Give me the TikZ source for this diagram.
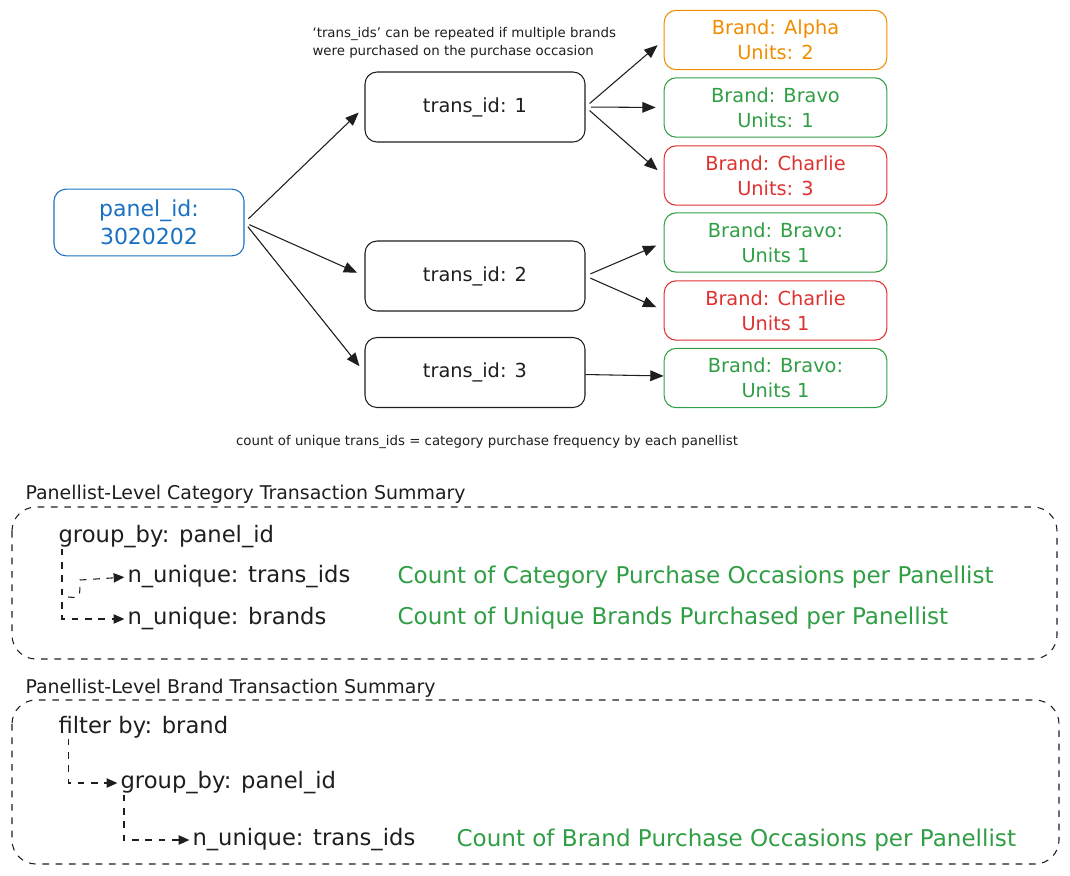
\documentclass[tikz,border=0pt]{standalone}
\usepackage{fontspec}
\setmainfont{DejaVu Sans}
\usetikzlibrary{arrows.meta}
\definecolor{inkblack}{HTML}{1E1E1E}
\definecolor{inkblue}{HTML}{1971C2}
\definecolor{inkorange}{HTML}{F08C00}
\definecolor{inkgreen}{HTML}{2F9E44}
\definecolor{inkred}{HTML}{E03131}
\begin{document}
\begin{tikzpicture}[x=0.75pt, y=-0.75pt, line width=0.8pt, color=inkblack,
  idbox/.style={draw, rounded corners=9pt, align=center, inner sep=0pt,
    font=\fontsize{14.5}{19}\selectfont},
  transbox/.style={idbox, minimum width=165pt, minimum height=52.5pt},
  brandbox/.style={idbox, minimum width=167pt, minimum height=44.5pt},
  flow/.style={-{Triangle[length=10pt,width=8pt]}, shorten <=4pt, shorten >=6pt},
  dashflow/.style={dash pattern=on 5pt off 5pt,
    -{Triangle[length=8pt,width=7pt]}, shorten >=2pt},
  notetext/.style={font=\fontsize{10}{13}\selectfont, align=left, inner sep=0pt},
  sumtitle/.style={font=\fontsize{14.2}{16}\selectfont, anchor=west, inner sep=0pt},
  sumtext/.style={font=\fontsize{17}{20}\selectfont, anchor=west, inner sep=0pt},
  resulttext/.style={sumtext, font=\fontsize{17.3}{20}\selectfont, text=inkgreen},
  sumframe/.style={dash pattern=on 5pt off 5pt, rounded corners=18pt}]
  \useasboundingbox (0,0) rectangle (1070,875);
  % Panellist and transactions
  \node[idbox, draw=inkblue, text=inkblue, minimum width=142.5pt, minimum height=50pt,
    font=\fontsize{16.5}{21}\selectfont]
    (panel) at (149,222.5) {panel\_id:\\3020202};
  \node[transbox] (t1) at (475,107) {trans\_id: 1};
  \node[transbox] (t2) at (475,276) {trans\_id: 2};
  \node[transbox] (t3) at (475,372.5) {trans\_id: 3};
  % Brands bought on each occasion
  \node[brandbox, draw=inkorange, text=inkorange] (alpha1) at (775.5,40) {Brand: Alpha\\Units: 2};
  \node[brandbox, draw=inkgreen, text=inkgreen] (bravo1) at (775.5,107.5) {Brand: Bravo\\Units: 1};
  \node[brandbox, draw=inkred, text=inkred] (charlie1) at (775.5,175.5) {Brand: Charlie\\Units: 3};
  \node[brandbox, draw=inkgreen, text=inkgreen] (bravo2) at (775.5,242.5) {Brand: Bravo:\\Units 1};
  \node[brandbox, draw=inkred, text=inkred] (charlie2) at (775.5,310.5) {Brand: Charlie\\Units 1};
  \node[brandbox, draw=inkgreen, text=inkgreen] (bravo3) at (775.5,378) {Brand: Bravo:\\Units 1};
  % Connectors
  \foreach \t in {t1,t2,t3}
    \draw[flow] (panel.east) -- (\t.west);
  \foreach \b in {alpha1,bravo1,charlie1}
    \draw[flow] (t1.east) -- (\b.west);
  \foreach \b in {bravo2,charlie2}
    \draw[flow] (t2.east) -- (\b.west);
  \draw[flow, shorten <=0pt, shorten >=0pt] (t3) -- (bravo3);
  % Notes
  \node[notetext, anchor=north west] (repeatnote) at (312,27)
    {`trans\_ids' can be repeated if multiple brands\\were purchased on the purchase occasion};
  \node[notetext] (freqnote) at (487,442)
    {count of unique trans\_ids = category purchase frequency by each panellist};
  % Category summary
  \node[sumtitle] (cattitle) at (25,494) {Panellist-Level Category Transaction Summary};
  \draw[sumframe] (12,507) rectangle (1057,659);
  \node[sumtext] (catgroup) at (58,537) {group\_by: panel\_id};
  \node[sumtext] (cattrans) at (127,577) {n\_unique: trans\_ids};
  \node[sumtext] (catbrands) at (127,619) {n\_unique: brands};
  \node[resulttext] (catfreq) at (397,577) {Count of Category Purchase Occasions per Panellist};
  \node[resulttext] (catunique) at (397,618) {Count of Unique Brands Purchased per Panellist};
  \coordinate (hook) at (68,597);
  \draw[dashflow] ([xshift=3pt]catgroup.south west) |- (catbrands.west);
  \draw[dashflow] (hook) .. controls (80,598) .. (80,580) -- (cattrans.west);
  % Brand summary
  \node[sumtitle] (brtitle) at (25,688) {Panellist-Level Brand Transaction Summary};
  \draw[sumframe] (12,700) rectangle (1059,864);
  \node[sumtext] (brfilter) at (58,727) {filter by: brand};
  \node[sumtext] (brgroup) at (120,783) {group\_by: panel\_id};
  \node[sumtext] (brtrans) at (192,840) {n\_unique: trans\_ids};
  \node[resulttext] (brfreq) at (456,840) {Count of Brand Purchase Occasions per Panellist};
  \draw[dashflow] ([xshift=8pt]brfilter.south west) |- (brgroup.west);
  \draw[dashflow] ([xshift=3pt]brgroup.south west) |- (brtrans.west);
\end{tikzpicture}
\end{document}
